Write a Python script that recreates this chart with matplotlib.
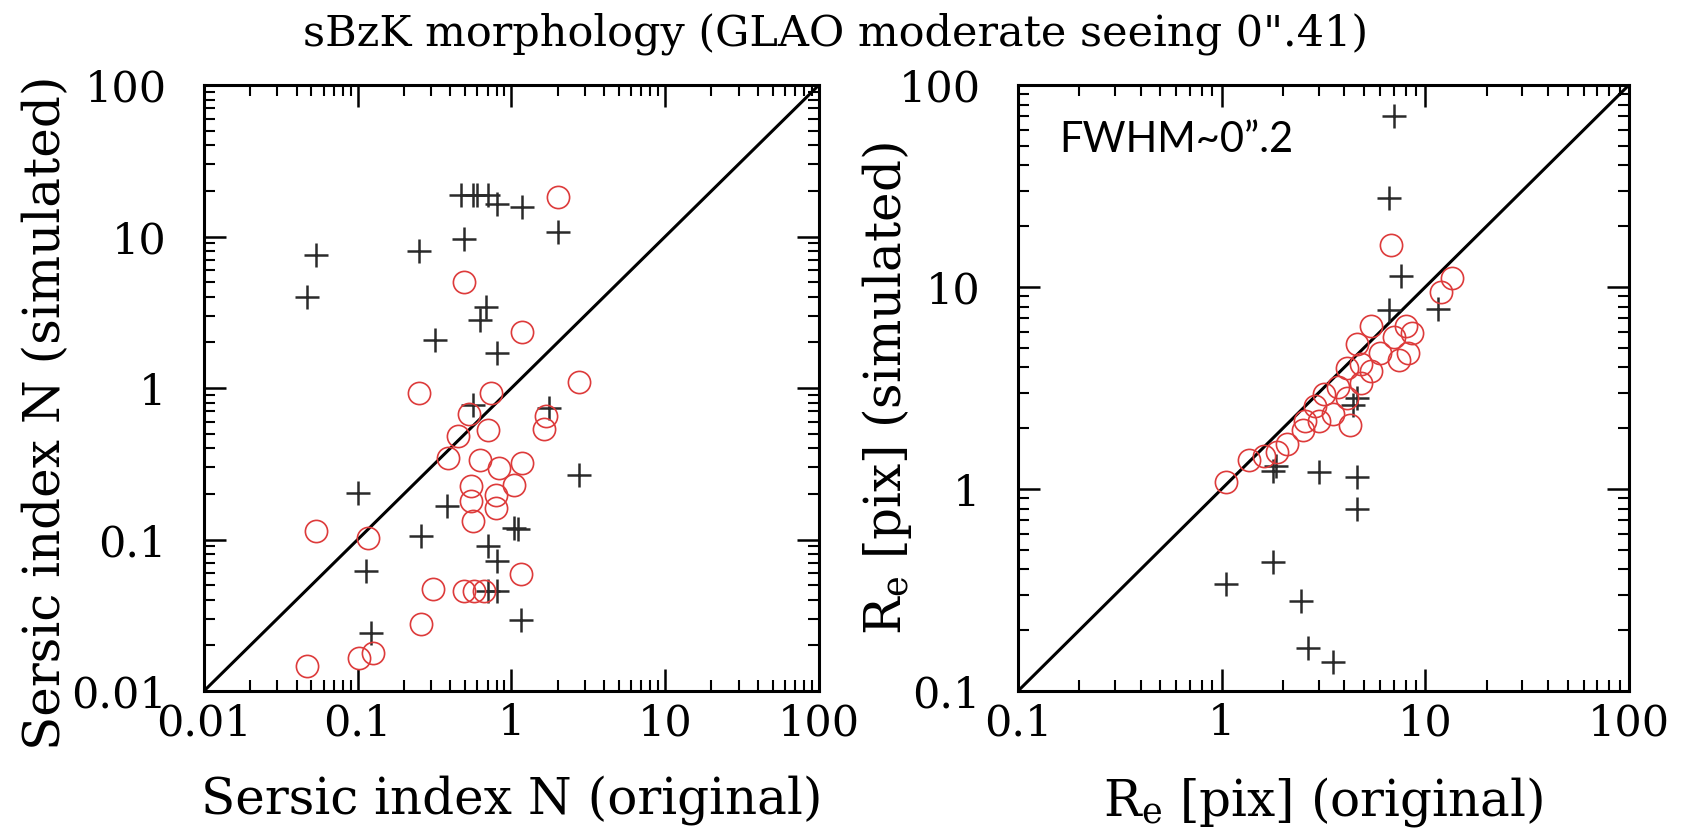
import matplotlib
matplotlib.use("Agg")
import matplotlib.pyplot as plt
from matplotlib.ticker import FixedLocator, FixedFormatter, LogLocator, NullFormatter

# left panel: Sersic index, original vs simulated
n_orig_circ = [2.0, 0.49, 1.18, 2.76, 0.251, 0.74, 0.53, 1.68, 1.63, 0.70, 0.447, 0.385,
               0.62, 0.83, 1.18, 1.04, 0.546, 0.79, 0.546, 0.79, 0.56, 0.0534, 0.116,
               1.15, 0.307, 0.49, 0.57, 0.665, 0.258, 0.125, 0.102, 0.047]
n_sim_circ = [18.3, 5.0, 2.35, 1.09, 0.925, 0.925, 0.67, 0.65, 0.54, 0.53, 0.479, 0.344,
              0.336, 0.296, 0.319, 0.23, 0.224, 0.198, 0.179, 0.161, 0.132, 0.113, 0.102,
              0.0588, 0.0468, 0.0456, 0.0456, 0.0456, 0.0275, 0.0179, 0.0166, 0.0146]
n_orig_plus = [0.47, 0.56, 0.60, 0.70, 0.81, 1.18, 2.0, 0.49, 0.249, 0.0534, 0.047, 0.68,
               0.62, 0.318, 0.80, 0.56, 1.76, 2.76, 0.100, 0.38, 0.258, 1.04, 1.1, 0.70,
               0.81, 0.113, 0.70, 0.81, 1.15, 0.122]
n_sim_plus = [18.8, 18.8, 18.8, 18.8, 16.5, 15.7, 10.7, 9.6, 8.0, 7.5, 3.96, 3.44,
              2.81, 2.07, 1.71, 0.775, 0.74, 0.267, 0.203, 0.166, 0.105, 0.119, 0.117, 0.090,
              0.072, 0.0618, 0.0456, 0.0456, 0.0296, 0.0242]

# right panel: effective radius, original vs simulated
re_orig_circ = [6.8, 11.9, 13.5, 5.4, 8.0, 8.6, 7.0, 4.6, 6.0, 8.2, 7.4, 4.85, 4.14, 5.4,
                3.72, 4.85, 3.18, 4.14, 2.86, 3.53, 2.58, 3.02, 4.25, 2.51, 2.09, 1.88,
                1.61, 1.37, 1.05]
re_sim_circ = [16.1, 9.5, 11.1, 6.4, 6.4, 5.9, 5.65, 5.2, 4.74, 4.74, 4.35, 4.17, 3.99, 3.82,
               3.21, 3.35, 2.94, 2.81, 2.58, 2.36, 2.17, 2.17, 2.07, 1.95, 1.67, 1.53,
               1.46, 1.40, 1.08]
re_orig_plus = [7.0, 6.65, 7.6, 11.6, 6.65, 4.6, 4.4, 1.78, 1.85, 3.02, 4.6, 4.6, 1.78,
                1.05, 2.45, 2.65, 3.53]
re_sim_plus = [70.6, 27.7, 11.3, 7.8, 7.7, 2.81, 2.6, 1.23, 1.3, 1.21, 1.15, 0.796, 0.433,
               0.340, 0.280, 0.163, 0.14]

left_ticks = [0.01, 0.1, 1, 10, 100]
left_labels = ["0.01", "0.1", "1", "10", "100"]
right_ticks = [0.1, 1, 10, 100]
right_labels = ["0.1", "1", "10", "100"]

plt.rcParams["font.family"] = "DejaVu Serif"
plt.rcParams["mathtext.fontset"] = "dejavuserif"

fig = plt.figure(figsize=(16.91, 8.36), dpi=100)
ax1 = fig.add_axes([0.1206, 0.1734, 0.3637, 0.7249])
ax2 = fig.add_axes([0.6020, 0.1734, 0.3613, 0.7249])

red = "#dd3b3b"
cross = "#2a2a2a"


def style(ax, ticks, labels):
    ax.set_xscale("log")
    ax.set_yscale("log")
    ax.set_xlim(ticks[0], ticks[-1])
    ax.set_ylim(ticks[0], ticks[-1])
    ax.plot([ticks[0], ticks[-1]], [ticks[0], ticks[-1]], color="black", lw=2.2, zorder=1)
    for axis in (ax.xaxis, ax.yaxis):
        axis.set_major_locator(FixedLocator(ticks))
        axis.set_major_formatter(FixedFormatter(labels))
        axis.set_minor_locator(LogLocator(base=10, subs=range(2, 10), numticks=20))
        axis.set_minor_formatter(NullFormatter())
    ax.tick_params(which="both", direction="in", top=True, right=True, color="black")
    ax.tick_params(which="major", length=16, width=1.8, labelsize=31)
    ax.tick_params(which="minor", length=8, width=1.5)
    ax.tick_params(axis="x", pad=8)
    ax.tick_params(axis="y", pad=27)
    for s in ax.spines.values():
        s.set_linewidth(2.2)


style(ax1, left_ticks, left_labels)
ax1.plot(n_orig_circ, n_sim_circ, "o", ms=16, mfc="none", mec=red, mew=1.2, zorder=3)
ax1.plot(n_orig_plus, n_sim_plus, "+", ms=17, color=cross, mew=1.8, zorder=2)
ax1.set_xlabel("Sersic index N (original)", fontsize=36)
ax1.set_ylabel("Sersic index N (simulated)", fontsize=36)
ax1.xaxis.set_label_coords(0.5, -0.138)
ax1.yaxis.set_label_coords(-0.216, 0.46)

style(ax2, right_ticks, right_labels)
ax2.plot(re_orig_circ, re_sim_circ, "o", ms=16, mfc="none", mec=red, mew=1.2, zorder=3)
ax2.plot(re_orig_plus, re_sim_plus, "+", ms=17, color=cross, mew=1.8, zorder=2)
ax2.set_xlabel(r"R$_{\rm e}$ [pix] (original)", fontsize=36)
ax2.set_ylabel(r"R$_{\rm e}$ [pix] (simulated)", fontsize=36)
ax2.xaxis.set_label_coords(0.5, -0.138)
ax2.yaxis.set_label_coords(-0.17, 0.5)
ax2.text(0.067, 0.91, "FWHM~0\u201d.2", transform=ax2.transAxes, fontsize=30,
         family=["Lato", "DejaVu Sans"], va="center", ha="left")

fig.suptitle("sBzK morphology (GLAO moderate seeing 0\".41)", x=0.494, y=0.985,
             va="top", fontsize=31)

fig.savefig("out.png", dpi=100)
